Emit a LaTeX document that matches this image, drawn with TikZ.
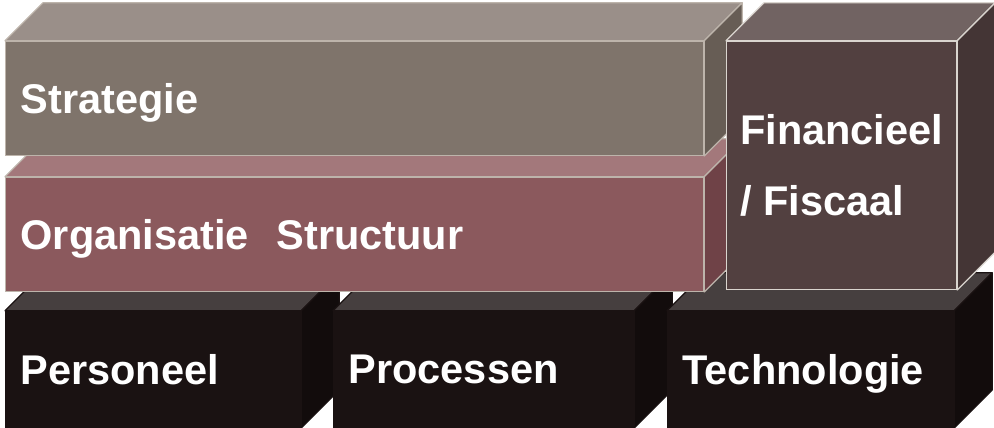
\documentclass[tikz,border=0pt]{standalone}
\usepackage{fontspec}
\setmainfont{Liberation Sans}
\usetikzlibrary{positioning}

\definecolor{strafront}{HTML}{7F746B}
\definecolor{straboven}{HTML}{9A8F89}
\definecolor{strarechts}{HTML}{675D55}
\definecolor{orgfront}{HTML}{8B595D}
\definecolor{orgboven}{HTML}{A3787B}
\definecolor{orgrechts}{HTML}{6F4247}
\definecolor{finfront}{HTML}{524040}
\definecolor{finboven}{HTML}{716362}
\definecolor{finrechts}{HTML}{443535}
\definecolor{basfront}{HTML}{1A1212}
\definecolor{basboven}{HTML}{463F3F}
\definecolor{basrechts}{HTML}{120C0C}
\definecolor{lijn}{HTML}{BDB4AB}
\definecolor{finlijn}{HTML}{DAD5CF}

% top and right face of a block, from the corners of its front node
\newcommand{\zijvlakken}[4]{%
	\filldraw[fill=#2,draw=#4,line width=1.2pt,line join=round]
		(#1.north west) -- ++(38,38) -- ([shift={(38,38)}]#1.north east) -- (#1.north east) -- cycle;
	\filldraw[fill=#3,draw=#4,line width=1.2pt,line join=round]
		(#1.north east) -- ++(38,38) -- ([shift={(38,38)}]#1.south east) -- (#1.south east) -- cycle;
}

\begin{document}
\begin{tikzpicture}[x=1pt,y=1pt,
		blok/.style={text=white,font=\fontsize{41.5}{71}\selectfont\bfseries,
			inner xsep=15pt,inner ysep=0pt,align=left,text depth=0pt,anchor=south west,line width=1.2pt}]
		\useasboundingbox (0,0) rectangle (994,428);

		% bottom row
		\node[blok,fill=basfront,draw=basfront,text width=265pt,minimum height=116pt] (personeel) at (5,0) {Personeel};
		\zijvlakken{personeel}{basboven}{basrechts}{basfront}
		\node[blok,fill=basfront,draw=basfront,text width=270pt,minimum height=116pt] (processen) at (333,0) {Processen};
		\zijvlakken{processen}{basboven}{basrechts}{basfront}
		\node[blok,fill=basfront,draw=basfront,text width=256pt,minimum height=116pt] (technologie) at (667,0) {Technologie};
		\zijvlakken{technologie}{basboven}{basrechts}{basfront}

		% layers
		\node[blok,fill=orgfront,draw=lijn,text width=668pt,minimum height=114pt] (organisatie) at (5,136) {Organisatie~~Structuur};
		\zijvlakken{organisatie}{orgboven}{orgrechts}{lijn}
		\node[blok,fill=strafront,draw=lijn,text width=668pt,minimum height=114pt] (strategie) at (5,272) {Strategie};
		\zijvlakken{strategie}{straboven}{strarechts}{lijn}

		% pillar
		\node[blok,fill=finfront,draw=finlijn,inner xsep=5pt,minimum width=230pt,minimum height=248pt] (financieel) at (726,138) {Financieel\\/ Fiscaal};
		\zijvlakken{financieel}{finboven}{finrechts}{finlijn}
	\end{tikzpicture}
\end{document}
